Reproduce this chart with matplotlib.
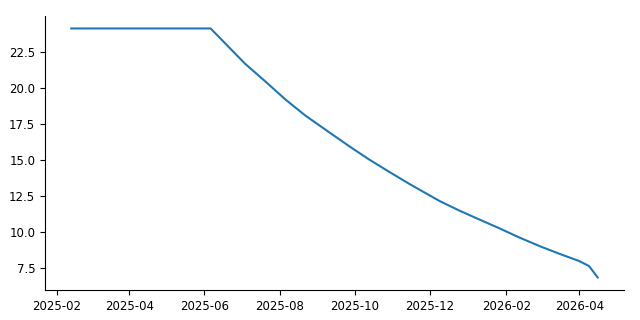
import matplotlib
matplotlib.use("Agg")
import matplotlib.pyplot as plt
import matplotlib.dates as mdates
import pandas as pd

dates = ["2025-02-13", "2025-06-06", "2025-06-18", "2025-07-04", "2025-07-21",
         "2025-08-06", "2025-08-22", "2025-09-11", "2025-09-27", "2025-10-13",
         "2025-10-29", "2025-11-15", "2025-12-09", "2025-12-25", "2026-01-10",
         "2026-01-26", "2026-02-11", "2026-02-28", "2026-03-16", "2026-04-01",
         "2026-04-09", "2026-04-16"]
values = [24.1, 24.1, 23.05, 21.65, 20.38,
          19.15, 18.05, 16.85, 15.90, 14.99,
          14.15, 13.28, 12.12, 11.46, 10.85,
          10.25, 9.62, 9.00, 8.47, 7.97,
          7.62, 6.83]

x = pd.to_datetime(dates)

fig = plt.figure(figsize=(6.4, 3.2), dpi=100)
ax = fig.add_axes([0.0703, 0.094, 0.9047, 0.856])
ax.plot(x, values, color="#1f77b4", lw=1.5)
ax.spines["top"].set_visible(False)
ax.spines["right"].set_visible(False)
ax.tick_params(labelsize=8.5)
ax.xaxis.set_major_locator(mdates.MonthLocator(bymonth=[2, 4, 6, 8, 10, 12]))
ax.xaxis.set_major_formatter(mdates.DateFormatter("%Y-%m"))
fig.savefig("out.png", dpi=100)
